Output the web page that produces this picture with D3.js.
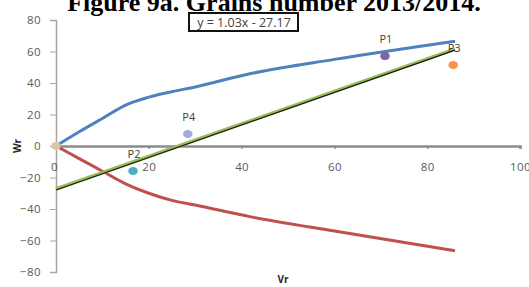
<!DOCTYPE html>
<html>
<head>
<meta charset="utf-8">
<script src="https://cdn.jsdelivr.net/npm/d3@7"></script>
<style>
  body { margin: 0; background: #fff; }
  svg { display: block; }
  .tick text { font-family: "Open Sans", sans-serif; font-size: 11.5px; letter-spacing: 0.4px; fill: #595959; }
  .axisTitle { font-family: "Open Sans", sans-serif; font-size: 10px; font-weight: bold; fill: #262626; }
  .pointLabel { font-family: "Open Sans", sans-serif; font-size: 11px; fill: #404040; }
</style>
</head>
<body>
<div id="chart"></div>
<script>
// data
var xTicks = [0, 20, 40, 60, 80, 100];
var yTicks = [-80, -60, -40, -20, 0, 20, 40, 60, 80];
var upperCurve = [[0, 0], [5, 9], [10, 17.5], [15, 26], [20, 31], [25, 34.5], [30, 37.5], [42, 46], [60, 55], [86, 66.5]];
var lowerCurve = [[0, 0], [5, -8], [10, -16], [15, -24], [20, -30], [25, -34.5], [30, -37.5], [42, -45], [60, -54], [86, -66.5]];
var trendLine = [[0, -27.3], [86, 61.5]];
var pointNames = ["", "P1", "P2", "P3", "P4"];
var pointX = [0, 70.9, 16.6, 85.6, 28.4];
var pointY = [0, 57.1, -15.9, 51.4, 7.6];
var pointColours = ["#d8c9a0", "#8064a2", "#4bacc6", "#f79646", "#9eadd9"];
var equationText = "y = 1.03x - 27.17";
var titleText = "Figure 9a. Grains number 2013/2014.";

var width = 529, height = 287;
var svg = d3.select("#chart").append("svg")
    .attr("width", width)
    .attr("height", height);

var x = d3.scaleLinear().domain([0, 100]).range([56, 520]);
var y = d3.scaleLinear().domain([-80, 80]).range([272, 20]);

// title (top cut off like the reference)
svg.append("text")
    .text(titleText)
    .attr("x", 274)
    .attr("y", 11)
    .attr("text-anchor", "middle")
    .style("font-family", "'Liberation Serif', 'Times New Roman', serif")
    .style("font-weight", "bold")
    .style("font-size", "26px")
    .style("fill", "#000");

// y axis
var yAxis = svg.append("g")
    .attr("transform", "translate(" + x(0) + ",0)")
    .call(d3.axisLeft(y).tickValues(yTicks).tickSize(6).tickPadding(9));
yAxis.select(".domain").style("stroke", "#a6a6a6").style("stroke-width", 1.5);
yAxis.selectAll(".tick line").style("stroke", "#a6a6a6");

// x axis through zero
var xAxis = svg.append("g")
    .attr("transform", "translate(0," + y(0) + ")")
    .call(d3.axisBottom(x).tickValues(xTicks).tickSize(3).tickPadding(14));
xAxis.select(".domain").style("stroke", "#8c8c8c").style("stroke-width", 2.5);
xAxis.selectAll(".tick line").style("stroke", "#8c8c8c").style("stroke-width", 1.5);
xAxis.selectAll(".tick text").attr("dx", (d) => { return d == 0 ? -2 : 0; });

// axis titles
svg.append("text")
    .attr("class", "axisTitle")
    .text("Wr")
    .attr("text-anchor", "middle")
    .attr("transform", "translate(21," + y(0) + ") rotate(-90)");
svg.append("text")
    .attr("class", "axisTitle")
    .text("Vr")
    .attr("text-anchor", "middle")
    .attr("x", 283)
    .attr("y", 283);

var line = d3.line()
    .x((d) => { return x(d[0]); })
    .y((d) => { return y(d[1]); })
    .curve(d3.curveMonotoneX);

svg.append("path")
    .datum(upperCurve)
    .attr("d", line)
    .style("fill", "none")
    .style("stroke", "#4f81bd")
    .style("stroke-width", 3);
svg.append("path")
    .datum(lowerCurve)
    .attr("d", line)
    .style("fill", "none")
    .style("stroke", "#c0504d")
    .style("stroke-width", 3);

// green series with black trendline on it
svg.append("path")
    .datum(trendLine)
    .attr("d", line)
    .style("fill", "none")
    .style("stroke", "#9bbb59")
    .style("stroke-width", 3.5);
svg.append("path")
    .datum(trendLine)
    .attr("d", line)
    .attr("transform", "translate(0,1)")
    .style("fill", "none")
    .style("stroke", "#1a1a1a")
    .style("stroke-width", 1.2);

// points
svg.selectAll("ellipse.pt")
    .data(pointX).enter()
    .append("ellipse")
    .attr("class", "pt")
    .attr("cx", (d) => { return x(d); })
    .attr("cy", (d, i) => { return y(pointY[i]); })
    .attr("rx", 4.8)
    .attr("ry", 4)
    .style("fill", (d, i) => { return pointColours[i]; });

svg.selectAll("text.pointLabel")
    .data(pointNames).enter()
    .append("text")
    .attr("class", "pointLabel")
    .text((d) => { return d; })
    .attr("text-anchor", "middle")
    .attr("x", (d, i) => { return x(pointX[i]) + 1; })
    .attr("y", (d, i) => { return y(pointY[i]) - 13; });

// equation box
svg.append("rect")
    .attr("x", 189)
    .attr("y", 13)
    .attr("width", 109)
    .attr("height", 18)
    .style("fill", "#fff")
    .style("stroke", "#111")
    .style("stroke-width", 2);
svg.append("text")
    .text(equationText)
    .attr("x", 244)
    .attr("y", 26.5)
    .attr("text-anchor", "middle")
    .style("font-family", "'Open Sans', sans-serif")
    .style("font-size", "12.5px")
    .style("fill", "#404040");
</script>
</body>
</html>
